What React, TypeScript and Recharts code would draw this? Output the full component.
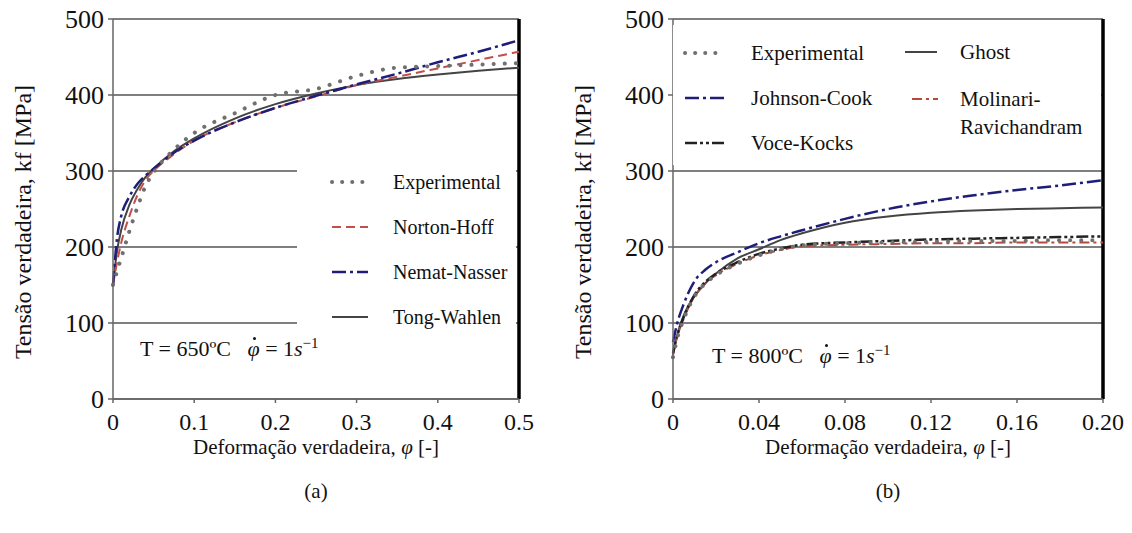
import React from 'react';
import { LineChart, Line, XAxis, YAxis, CartesianGrid, ReferenceLine, Legend } from 'recharts';

// (a) T = 650 ºC
const strainA = [0, 0.005, 0.01, 0.02, 0.03, 0.04, 0.05, 0.075, 0.1, 0.15, 0.2, 0.25, 0.3, 0.35, 0.4, 0.45, 0.5];
const experimentalA = [150, 168, 185, 220, 252, 280, 298, 328, 350, 376, 400, 408, 425, 436, 438, 440, 442];
const nortonHoff = [150, 180, 205, 240, 268, 288, 300, 322, 340, 364, 383, 398, 413, 424, 435, 446, 457];
const nematNasser = [150, 212, 240, 266, 283, 294, 303, 324, 340, 364, 383, 399, 414, 428, 443, 457, 472];
const tongWahlen = [150, 195, 222, 255, 276, 292, 303, 326, 343, 369, 388, 402, 413, 421, 427, 432, 436];
const ticksA = [0, 0.1, 0.2, 0.3, 0.4, 0.5];

// (b) T = 800 ºC
const strainB = [0, 0.002, 0.005, 0.01, 0.015, 0.02, 0.03, 0.04, 0.05, 0.06, 0.08, 0.1, 0.12, 0.14, 0.16, 0.18, 0.2];
const experimentalB = [55, 80, 105, 135, 152, 163, 178, 189, 197, 202, 205, 206, 207, 208, 208, 209, 209];
const johnsonCook = [75, 100, 125, 155, 170, 180, 193, 205, 214, 222, 237, 250, 260, 268, 275, 281, 288];
const voceKocks = [60, 84, 108, 137, 154, 165, 180, 191, 198, 203, 206, 208, 210, 211, 212, 213, 214];
const ghost = [60, 85, 110, 135, 152, 165, 185, 197, 209, 218, 232, 240, 245, 248, 250, 251, 252];
const molinari = [58, 82, 106, 135, 152, 163, 178, 189, 196, 201, 203, 204, 205, 205, 206, 206, 206];
const ticksB = [0, 0.04, 0.08, 0.12, 0.16, 0.2];
const tickLabelsB = ['0', '0.04', '0.08', '0.12', '0.16', '0.20'];

const yTicks = [0, 100, 200, 300, 400, 500];

const dataA = strainA.map((x, i) => ({
  x,
  exp: experimentalA[i],
  nh: nortonHoff[i],
  nn: nematNasser[i],
  tw: tongWahlen[i],
}));

const dataB = strainB.map((x, i) => ({
  x,
  exp: experimentalB[i],
  jc: johnsonCook[i],
  vk: voceKocks[i],
  gh: ghost[i],
  mr: molinari[i],
}));

const FONT = "'Liberation Serif', 'Times New Roman', serif";

const styles = {
  exp: { stroke: '#707070', dash: '0.1 11', width: 4 },
  nh: { stroke: '#c0504d', dash: '9 5', width: 2 },
  nn: { stroke: '#1e1e78', dash: '14 4 3 4', width: 2.5 },
  tw: { stroke: '#444', dash: undefined, width: 2 },
  jc: { stroke: '#1e1e78', dash: '14 4 3 4', width: 2.5 },
  vk: { stroke: '#222', dash: '12 3 3 3 3 3', width: 2.5 },
  mr: { stroke: '#b5493c', dash: '10 4 3 4', width: 2 },
  gh: { stroke: '#444', dash: undefined, width: 2 },
} as const;

type Key = keyof typeof styles;

const Sample = ({ k, w = 40 }: { k: Key; w?: number }) => {
  const s = styles[k];
  return (
    <svg width={w} height={8} style={{ display: 'block' }}>
      <line
        x1={2}
        y1={4}
        x2={w - 2}
        y2={4}
        stroke={s.stroke}
        strokeWidth={s.width}
        strokeDasharray={k === 'exp' ? '0.1 10' : s.dash}
        strokeLinecap={k === 'exp' ? 'round' : 'butt'}
      />
    </svg>
  );
};

const legendA: { k: Key; name: string }[] = [
  { k: 'exp', name: 'Experimental' },
  { k: 'nh', name: 'Norton-Hoff' },
  { k: 'nn', name: 'Nemat-Nasser' },
  { k: 'tw', name: 'Tong-Wahlen' },
];

const LegendA = () => (
  <div style={{ position: 'relative', width: 219, height: 190, fontFamily: FONT, fontSize: 20, color: '#111' }}>
    {legendA.map((it, i) => (
      <div key={it.k} style={{ position: 'absolute', left: 33, top: 32 + i * 45 - 12, height: 24, display: 'flex', alignItems: 'center' }}>
        <Sample k={it.k} />
        <span style={{ marginLeft: 23, whiteSpace: 'nowrap' }}>{it.name}</span>
      </div>
    ))}
  </div>
);

const LegendB = () => (
  <div style={{ position: 'relative', width: 428, height: 140, fontFamily: FONT, fontSize: 21, color: '#111' }}>
    {[
      { k: 'exp' as Key, name: 'Experimental', top: 28 },
      { k: 'jc' as Key, name: 'Johnson-Cook', top: 73 },
      { k: 'vk' as Key, name: 'Voce-Kocks', top: 118 },
    ].map((it) => (
      <div key={it.k} style={{ position: 'absolute', left: 10, top: it.top - 13, height: 26, display: 'flex', alignItems: 'center' }}>
        <Sample k={it.k} w={44} />
        <span style={{ marginLeft: 24, whiteSpace: 'nowrap' }}>{it.name}</span>
      </div>
    ))}
    <div style={{ position: 'absolute', left: 230, top: 14, height: 26, display: 'flex', alignItems: 'center' }}>
      <Sample k="gh" w={36} />
      <span style={{ marginLeft: 21, whiteSpace: 'nowrap' }}>Ghost</span>
    </div>
    <div style={{ position: 'absolute', left: 237, top: 60, display: 'flex', alignItems: 'flex-start' }}>
      <div style={{ marginTop: 10 }}>
        <Sample k="mr" w={30} />
      </div>
      <span style={{ marginLeft: 20, lineHeight: '28px', whiteSpace: 'nowrap' }}>
        Molinari-
        <br />
        Ravichandram
      </span>
    </div>
  </div>
);

const YTitle = ({ cx }: any) => {
  const cy = 222;
  return (
    <text x={cx} y={cy} transform={`rotate(-90 ${cx} ${cy})`} textAnchor="middle" dominantBaseline="central" fontFamily={FONT} fontSize={24} fill="#111">
      Tensão verdadeira, kf [MPa]
    </text>
  );
};

const XTitle = ({ viewBox, caption }: any) => {
  const cx = viewBox ? viewBox.x + viewBox.width / 2 : 316;
  return (
    <g>
      <text x={cx} y={454} textAnchor="middle" fontFamily={FONT} fontSize={21} fill="#111">
        Deformação verdadeira, <tspan fontStyle="italic">φ</tspan> [-]
      </text>
      <text x={cx} y={498} textAnchor="middle" fontFamily={FONT} fontSize={21} fill="#111">
        {caption}
      </text>
    </g>
  );
};

const xTickStyle = { fontFamily: FONT, fontSize: 24, fill: '#111' };
const yTickStyle = { fontFamily: FONT, fontSize: 26, fill: '#111' };

// φ with a drawn dot above it (time derivative)
const PhiDot = () => (
  <span style={{ position: 'relative', fontStyle: 'italic' }}>
    φ
    <span style={{ position: 'absolute', left: 6, top: 1, width: 3, height: 3, borderRadius: '50%', background: '#111' }} />
  </span>
);

const Note = ({ left, top, temp }: { left: number; top: number; temp: string }) => (
  <div style={{ position: 'absolute', left, top, fontFamily: FONT, fontSize: 22, color: '#111', whiteSpace: 'nowrap' }}>
    T = {temp}ºC&nbsp;&nbsp;&nbsp;
    <PhiDot />
    {' '}= 1<i>s</i>
    <sup style={{ fontSize: 15 }}>−1</sup>
  </div>
);

export default function App() {
  return (
    <div style={{ position: 'relative', left: -8, top: -8, width: 1132, height: 533, background: '#fff', overflow: 'hidden' }}>
      <div style={{ position: 'absolute', left: 0, top: 0 }}>
        <LineChart width={540} height={533} data={dataA} margin={{ top: 19, right: 21, bottom: 93, left: 0 }}>
          <CartesianGrid vertical={false} stroke="#555" strokeWidth={1.5} />
          <XAxis
            dataKey="x"
            type="number"
            domain={[0, 0.5]}
            ticks={ticksA}
            height={41}
            tick={xTickStyle}
            tickSize={4}
            tickMargin={10}
            stroke="#666"
            strokeWidth={1.5}
            label={<XTitle caption="(a)" />}
          />
          <YAxis
            type="number"
            domain={[0, 500]}
            ticks={yTicks}
            width={113}
            tick={yTickStyle}
            tickSize={5}
            tickMargin={4}
            stroke="#666"
            strokeWidth={1.5}
            label={<YTitle cx={23} />}
          />
          <ReferenceLine x={0.5} stroke="#000" strokeWidth={3.5} />
          <Legend layout="vertical" verticalAlign="middle" align="center" content={() => <LegendA />} wrapperStyle={{ left: 297, top: 150, width: 219, height: 190, background: '#fff' }} />
          {(['tw', 'nh', 'nn', 'exp'] as Key[]).map((k) => (
            <Line
              key={k}
              dataKey={k}
              type="monotone"
              stroke={styles[k].stroke}
              strokeWidth={styles[k].width}
              strokeDasharray={styles[k].dash}
              strokeLinecap={k === 'exp' ? 'round' : 'butt'}
              dot={false}
              isAnimationActive={false}
            />
          ))}
        </LineChart>
      </div>
      <Note left={140} top={335} temp="650" />

      <div style={{ position: 'absolute', left: 560, top: 0 }}>
        <LineChart width={572} height={533} data={dataB} margin={{ top: 19, right: 29, bottom: 93, left: 0 }}>
          <CartesianGrid vertical={false} stroke="#555" strokeWidth={1.5} />
          <XAxis
            dataKey="x"
            type="number"
            domain={[0, 0.2]}
            ticks={ticksB}
            tickFormatter={(v: number) => tickLabelsB[ticksB.indexOf(v)] ?? String(v)}
            height={41}
            tick={xTickStyle}
            tickSize={4}
            tickMargin={10}
            stroke="#666"
            strokeWidth={1.5}
            label={<XTitle caption="(b)" />}
          />
          <YAxis
            type="number"
            domain={[0, 500]}
            ticks={yTicks}
            width={113}
            tick={yTickStyle}
            tickSize={5}
            tickMargin={4}
            stroke="#666"
            strokeWidth={1.5}
            label={<YTitle cx={23} />}
          />
          <ReferenceLine x={0.2} stroke="#000" strokeWidth={3.5} />
          <Legend layout="vertical" verticalAlign="middle" align="center" content={() => <LegendB />} wrapperStyle={{ left: 113, top: 25, width: 428, height: 140, background: '#fff' }} />
          {(['gh', 'jc', 'mr', 'vk', 'exp'] as Key[]).map((k) => (
            <Line
              key={k}
              dataKey={k}
              type="monotone"
              stroke={styles[k].stroke}
              strokeWidth={styles[k].width}
              strokeDasharray={styles[k].dash}
              strokeLinecap={k === 'exp' ? 'round' : 'butt'}
              dot={false}
              isAnimationActive={false}
            />
          ))}
        </LineChart>
      </div>
      <Note left={712} top={342} temp="800" />
    </div>
  );
}
